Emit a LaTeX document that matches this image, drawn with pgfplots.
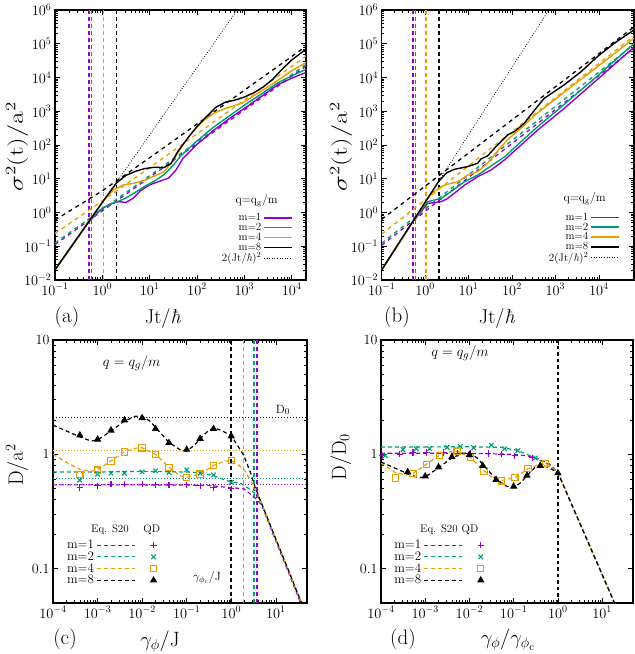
\documentclass[border=0pt]{standalone}
\usepackage{pgfplots}
\pgfplotsset{compat=1.18}
\definecolor{cP}{HTML}{9400D3}
\definecolor{cG}{HTML}{009E73}
\definecolor{cO}{HTML}{E69F00}
\newcommand{\fs}[1]{\fontsize{#1}{#1}\selectfont}
\newcommand{\hb}{\textit{ħ}}
\pgfplotsset{
  every axis/.append style={
    scale only axis,
    axis line style={line width=1.1pt}, tick align=inside,
    major tick length=5pt, minor tick length=2.6pt,
    every tick/.append style={black,line width=0.6pt},
    tick label style={font=\fs{14}},
  },
  legA/.style={legend image code/.code={\draw[##1] (0pt,0pt) -- (28pt,0pt);}},
  legC/.style={legend image code/.code={\draw[##1] (0pt,0pt) -- (38pt,0pt); \draw[##1,solid,line width=1.1pt] plot coordinates {(57pt,0pt)};}},
  vl/.style={line width=1.7pt, dash pattern=on 4pt off 3pt},
  cu/.style={line width=1.4pt},
  da/.style={line width=1.3pt, dash pattern=on 4pt off 4pt},
  s20/.style={line width=1.2pt, dash pattern=on 4pt off 3pt},
  hd/.style={line width=0.9pt, dash pattern=on 1pt off 2pt},
  bal/.style={black,line width=0.8pt,dash pattern=on 0.8pt off 1.8pt},
  qd/.style={only marks, mark size=3.2pt, line width=1.1pt, mark options={solid}},
}
\begin{document}
\begin{tikzpicture}[x=1pt,y=1pt]
\useasboundingbox (0,0) rectangle (635,654);

% ---------------- (a)
\begin{axis}[at={(55pt,374pt)}, anchor=south west, width=251pt, height=270pt,
  xmode=log, ymode=log,
  xmin=0.1, xmax=2e4, ymin=1e-2, ymax=1e6,
  xtick={0.1,1,10,100,1000,10000},
  ytick={1e-2,1e-1,1,10,100,1e3,1e4,1e5,1e6},
  legA, legend cell align=right, legend plot pos=right,
  legend style={draw=none, fill=none, at={(0.960,0.262)}, anchor=north east, font=\fs{11}, row sep=-3pt}]
\addplot[vl,cP,forget plot] coordinates {(0.53,1e-2) (0.53,1e6)};
\addplot[vl,cG,forget plot] coordinates {(0.59,1e-2) (0.59,1e6)};
\addplot[vl,cO,forget plot] coordinates {(1.05,1e-2) (1.05,1e6)};
\addplot[vl,black,forget plot] coordinates {(2.0,1e-2) (2.0,1e6)};
\addplot[bal,forget plot] coordinates {(0.1,0.02) (707,1e6)};
\addplot[da,cP,forget plot] coordinates {(0.1,0.112) (20000,21600)};
\addplot[da,cG,forget plot] coordinates {(0.1,0.125) (20000,24400)};
\addplot[da,cO,forget plot] coordinates {(0.1,0.24) (1,2.2) (10,21.4) (100,214) (1000,2140) (20000,42800)};
\addplot[da,black,forget plot] coordinates {(0.1,0.6) (1,4.4) (10,42) (100,420) (1000,4200) (20000,84000)};
\addplot[cu,cP,forget plot] coordinates {(0.1,0.02)(0.501,0.501)(0.708,0.832)(1,1.318)(1.585,1.862)(2.239,2.089)(3.162,1.995)(4.467,2.630)(6.310,4.365)(10,6.607)(15.85,8.318)(25.12,10.47)(35.48,17.78)(50.12,39.81)(100,104.7)(218.8,263)(501.2,631)(1096,1318)(2512,3020)(5012,6026)(10000,9550)(19950,14130)};
\addplot[cu,cG,forget plot] coordinates {(0.1,0.02)(0.501,0.501)(0.708,0.891)(1,1.349)(1.585,1.820)(2.239,2.188)(3.162,2.692)(5.012,3.981)(7.943,6.026)(12.59,8.511)(19.95,13.18)(31.62,25.12)(44.67,46.77)(100,131.8)(218.8,331.1)(501.2,758.6)(1096,1660)(2512,3548)(5012,6918)(10000,11220)(19950,17380)};
\addplot[cu,cO,forget plot] coordinates {(0.1,0.02)(0.316,0.2)(1,2)(1.259,3.02)(1.778,4.786)(2.818,6.607)(4.467,7.244)(7.079,8.511)(11.22,11.22)(19.95,15.85)(31.62,35.48)(50.12,100)(79.43,239.9)(125.9,478.6)(223.9,871)(398.1,1202)(891.3,1738)(1995,3548)(4467,7244)(10000,15850)(19950,27540)};
\addplot[cu,black,forget plot] coordinates {(0.1,0.02)(0.316,0.2)(1,2)(2,7.6)(3.16,12.6)(5.01,16.6)(7.94,20)(12.6,21.9)(20,21.4)(28.2,28.2)(39.8,66)(63.1,158)(100,355)(158,692)(251,1318)(398,1862)(631,2138)(1000,2630)(1585,3548)(2512,5248)(3981,8900)(6310,17800)(10000,33000)(20000,69000)};
\addlegendimage{cu,cP}\addlegendentry{m=1}
\addlegendimage{cu,cG}\addlegendentry{m=2}
\addlegendimage{cu,cO}\addlegendentry{m=4}
\addlegendimage{cu,black}\addlegendentry{m=8}
\addlegendimage{bal}\addlegendentry{2(Jt/\hb)$^2$}
\end{axis}

% ---------------- (b)
\begin{axis}[at={(381.7pt,374pt)}, anchor=south west, width=252.3pt, height=270pt,
  xmode=log, ymode=log,
  xmin=0.1, xmax=6.46e4, ymin=1e-2, ymax=1e6,
  xtick={0.1,1,10,100,1000,10000},
  ytick={1e-2,1e-1,1,10,100,1e3,1e4,1e5,1e6},
  legA, legend cell align=right, legend plot pos=right,
  legend style={draw=none, fill=none, at={(0.956,0.264)}, anchor=north east, font=\fs{11}, row sep=-3pt}]
\addplot[vl,cP,forget plot] coordinates {(0.52,1e-2) (0.52,1e6)};
\addplot[vl,cG,forget plot] coordinates {(0.60,1e-2) (0.60,1e6)};
\addplot[vl,cO,forget plot] coordinates {(1.05,1e-2) (1.05,1e6)};
\addplot[vl,black,forget plot] coordinates {(2.06,1e-2) (2.06,1e6)};
\addplot[bal,forget plot] coordinates {(0.1,0.02) (707,1e6)};
\addplot[da,cP,forget plot] coordinates {(0.1,0.107) (64570,74000)};
\addplot[da,cG,forget plot] coordinates {(0.1,0.123) (64570,95500)};
\addplot[da,cO,forget plot] coordinates {(0.1,0.23) (64570,170000)};
\addplot[da,black,forget plot] coordinates {(0.1,0.63) (64570,316000)};
\addplot[cu,cP,forget plot] coordinates {(0.1,0.02)(0.513,0.525)(1.148,1.862)(2.344,2.089)(3.162,2.512)(4.732,3.715)(8.035,6.457)(16.22,11.48)(33.11,18.2)(67.61,36.31)(162.2,100)(389,275.4)(1585,1202)(10000,9550)(64570,79430)};
\addplot[cu,cG,forget plot] coordinates {(0.1,0.02)(0.562,0.631)(1.148,2.089)(2.344,2.630)(3.981,4.169)(8.035,8.128)(16.22,12.88)(27.54,20.42)(67.61,44.67)(162.2,125.9)(389,346.7)(1585,1585)(10000,12020)(64570,102300)};
\addplot[cu,cO,forget plot] coordinates {(0.1,0.02)(1.148,2.63)(1.585,4.169)(2.323,5.754)(3.311,6.918)(5.623,8.128)(9.55,12.88)(16.22,16.22)(27.54,28.84)(56.23,89.13)(95.5,177.8)(195,389)(331,758.6)(1585,3631)(10000,22390)(64570,144500)};
\addplot[cu,black,forget plot] coordinates {(0.1,0.02)(1,2)(2.042,8.318)(3.162,15.14)(4.732,19.05)(9.55,22.91)(16.22,28.84)(19.05,38.02)(27.54,47.86)(42.66,89.13)(79.43,199.5)(114.8,251.2)(190.5,436.5)(316.2,1000)(549.5,2399)(1585,6026)(3890,14790)(9333,41690)(22390,102300)(64570,257000)};
\addlegendimage{cu,cP}\addlegendentry{m=1}
\addlegendimage{cu,cG}\addlegendentry{m=2}
\addlegendimage{cu,cO}\addlegendentry{m=4}
\addlegendimage{cu,black}\addlegendentry{m=8}
\addlegendimage{bal}\addlegendentry{2(Jt/\hb)$^2$}
\end{axis}

% ---------------- (c)
\begin{axis}[at={(53pt,51pt)}, anchor=south west, width=254pt, height=263pt,
  xmode=log, ymode=log,
  xmin=1e-4, xmax=50, ymin=0.05, ymax=10,
  xtick={1e-4,1e-3,1e-2,1e-1,1,10},
  ytick={0.1,1,10}, yticklabels={0.1,1,10},
  legC, legend cell align=right, legend plot pos=right,
  legend style={draw=none, fill=none, at={(0.035,0.255)}, anchor=north west, font=\fs{13}, row sep=-2.5pt}]
\addplot[hd,black,forget plot] coordinates {(1e-4,2.1) (50,2.1)};
\addplot[hd,cO,forget plot] coordinates {(1e-4,1.07) (50,1.07)};
\addplot[hd,cG,forget plot] coordinates {(1e-4,0.61) (50,0.61)};
\addplot[hd,cP,forget plot] coordinates {(1e-4,0.54) (50,0.54)};
\addplot[vl,black,forget plot] coordinates {(1,0.05) (1,10)};
\addplot[vl,cO,forget plot] coordinates {(1.89,0.05) (1.89,10)};
\addplot[vl,cG,forget plot] coordinates {(3.2,0.05) (3.2,10)};
\addplot[vl,cP,forget plot] coordinates {(3.77,0.05) (3.77,10)};
\addplot[s20,cP,forget plot] coordinates {(1e-4,0.54)(1e-3,0.54)(1e-2,0.54)(0.1,0.538)(0.3,0.535)(0.6,0.52)(1,0.51)(1.9,0.50)(3,0.434)(4.3,0.38)(5,0.345)(10,0.174)(20,0.089)(50,0.036)};
\addplot[s20,cG,forget plot] coordinates {(1e-4,0.70)(1e-3,0.70)(1e-2,0.71)(0.1,0.70)(0.2,0.69)(0.4,0.65)(0.7,0.60)(1,0.57)(1.6,0.56)(2.5,0.50)(3.5,0.45)(4.5,0.395)(10,0.181)(20,0.0927)(50,0.0378)};
\addplot[s20,cO,forget plot] coordinates {(1e-4,1.0)(2e-4,0.85)(4e-4,0.74)(7e-4,0.71)(1e-3,0.73)(2e-3,0.875)(4e-3,1.05)(7e-3,1.13)(1e-2,1.14)(2e-2,1.0)(4e-2,0.77)(7e-2,0.65)(1e-1,0.63)(2e-1,0.67)(4e-1,0.80)(7e-1,0.87)(1,0.88)(1.5,0.80)(2,0.72)(3,0.55)(4,0.443)(10,0.181)(20,0.0927)(50,0.0378)};
\addplot[s20,black,forget plot] coordinates {(1e-4,1.80)(2e-4,1.6)(4e-4,1.42)(7e-4,1.31)(1e-3,1.33)(2e-3,1.6)(4e-3,1.95)(7e-3,2.15)(1e-2,2.15)(1.5e-2,1.95)(2e-2,1.72)(4e-2,1.27)(7e-2,1.1)(1e-1,1.07)(1.5e-1,1.2)(2e-1,1.37)(3e-1,1.6)(4e-1,1.7)(6e-1,1.62)(1,1.45)(1.34,1.22)(1.9,0.98)(2.7,0.69)(3.46,0.51)(5,0.356)(10,0.181)(20,0.0927)(50,0.0378)};
\addplot[qd,cP,mark=+,forget plot] coordinates {(4e-4,0.513)(1e-3,0.53)(2e-3,0.548)(4e-3,0.548)(1e-2,0.548)(2e-2,0.541)(4e-2,0.541)(1e-1,0.541)(2e-1,0.53)(4e-1,0.513)(1,0.50)};
\addplot[qd,cG,mark=x,forget plot] coordinates {(4e-4,0.594)(1e-3,0.67)(2e-3,0.684)(4e-3,0.684)(1e-2,0.70)(2e-2,0.716)(4e-2,0.693)(1e-1,0.73)(2e-1,0.684)(4e-1,0.66)(1,0.567)};
\addplot[qd,cO,mark=square,forget plot] coordinates {(4e-4,0.666)(1e-3,0.726)(2e-3,0.875)(4e-3,1.047)(1e-2,1.14)(2e-2,1.0)(4e-2,0.766)(1e-1,0.627)(2e-1,0.67)(4e-1,0.80)(1,0.887)};
\addplot[qd,black,mark=triangle*,forget plot] coordinates {(4e-4,1.47)(1e-3,1.35)(2e-3,1.62)(4e-3,1.99)(1e-2,2.08)(2e-2,1.67)(4e-2,1.26)(1e-1,1.10)(2e-1,1.37)(4e-1,1.67)(1,1.44)};
\addlegendimage{s20,cP,mark=+,mark size=3.2pt}\addlegendentry{m=1}
\addlegendimage{s20,cG,mark=x,mark size=3.2pt}\addlegendentry{m=2}
\addlegendimage{s20,cO,mark=square,mark size=3.2pt}\addlegendentry{m=4}
\addlegendimage{s20,black,mark=triangle*,mark size=3.2pt}\addlegendentry{m=8}
\end{axis}

% ---------------- (d)
\begin{axis}[at={(381pt,51pt)}, anchor=south west, width=252pt, height=263pt,
  xmode=log, ymode=log,
  xmin=1e-4, xmax=50, ymin=0.05, ymax=10,
  xtick={1e-4,1e-3,1e-2,1e-1,1,10},
  ytick={0.1,1,10}, yticklabels={0.1,1,10},
  legC, legend cell align=right, legend plot pos=right,
  legend style={draw=none, fill=none, at={(0.032,0.255)}, anchor=north west, font=\fs{13}, row sep=-2.5pt}]
\addplot[black,line width=1.3pt,dash pattern=on 3.5pt off 3pt,forget plot] coordinates {(1,0.05) (1,10)};
\addplot[s20,cP,forget plot] coordinates {(1e-4,1.02)(1e-3,1.02)(1e-2,1.02)(0.1,1.0)(0.2,0.97)(0.35,0.92)(0.6,0.84)(1,0.70)(2,0.372)(5,0.165)(10,0.089)(20,0.048)(50,0.021)};
\addplot[s20,cG,forget plot] coordinates {(1e-4,1.16)(1e-3,1.16)(1e-2,1.165)(0.05,1.15)(0.125,1.08)(0.2,1.0)(0.35,0.9)(0.6,0.82)(1,0.70)(2,0.372)(5,0.165)(10,0.089)(20,0.048)(50,0.021)};
\addplot[s20,cO,forget plot] coordinates {(1e-4,0.84)(2.12e-4,0.69)(3.7e-4,0.66)(5.3e-4,0.68)(1.06e-3,0.82)(2.12e-3,0.98)(3.7e-3,1.056)(5.3e-3,1.065)(1.06e-2,0.935)(2.12e-2,0.72)(3.7e-2,0.607)(5.3e-2,0.589)(0.106,0.626)(0.212,0.748)(0.37,0.813)(0.53,0.822)(1,0.70)(2,0.372)(5,0.165)(10,0.089)(20,0.048)(50,0.021)};
\addplot[s20,black,forget plot] coordinates {(1e-4,0.857)(2e-4,0.762)(4e-4,0.676)(7e-4,0.624)(1e-3,0.633)(2e-3,0.762)(4e-3,0.929)(7e-3,1.024)(1e-2,1.024)(1.5e-2,0.929)(2e-2,0.819)(4e-2,0.605)(7e-2,0.524)(1e-1,0.510)(1.5e-1,0.571)(2e-1,0.652)(3e-1,0.762)(4e-1,0.810)(6e-1,0.771)(1,0.690)(2,0.372)(5,0.165)(10,0.089)(20,0.048)(50,0.021)};
\addplot[qd,cP,mark=+,forget plot] coordinates {(1.06e-4,0.968)(2.65e-4,1.0)(5.3e-4,1.034)(1.06e-3,1.034)(2.65e-3,1.034)(5.3e-3,1.02)(1.06e-2,1.02)(2.65e-2,1.02)(5.3e-2,1.0)(0.106,0.968)(0.265,0.93)};
\addplot[qd,cG,mark=x,forget plot] coordinates {(1.25e-4,0.974)(3.13e-4,1.10)(6.25e-4,1.12)(1.25e-3,1.12)(3.13e-3,1.15)(6.25e-3,1.17)(1.25e-2,1.14)(3.13e-2,1.20)(6.25e-2,1.12)(0.125,1.08)(0.3125,0.93)};
\addplot[qd,cO,mark=square,forget plot] coordinates {(2.12e-4,0.622)(5.29e-4,0.679)(1.06e-3,0.818)(2.12e-3,0.979)(5.29e-3,1.065)(1.06e-2,0.935)(2.12e-2,0.716)(5.29e-2,0.586)(0.106,0.626)(0.212,0.748)(0.529,0.829)};
\addplot[qd,black,mark=triangle*,forget plot] coordinates {(4e-4,0.70)(1e-3,0.643)(2e-3,0.771)(4e-3,0.948)(1e-2,0.99)(2e-2,0.795)(4e-2,0.60)(1e-1,0.524)(2e-1,0.652)(4e-1,0.795)(1,0.686)};
\addlegendimage{s20,cP,mark=+,mark size=3.2pt}\addlegendentry{m=1}
\addlegendimage{s20,cG,mark=x,mark size=3.2pt}\addlegendentry{m=2}
\addlegendimage{s20,cO,mark=square,mark size=3.2pt}\addlegendentry{m=4}
\addlegendimage{s20,black,mark=triangle*,mark size=3.2pt}\addlegendentry{m=8}
\end{axis}

% ---------------- labels
\node[rotate=90,font=\fs{21}] at (17,507) {\scalebox{1.3}[1]{$\sigma^2(\mathrm{t})/\mathrm{a}^2$}};
\node[rotate=90,font=\fs{21}] at (341,507) {\scalebox{1.3}[1]{$\sigma^2(\mathrm{t})/\mathrm{a}^2$}};
\node[rotate=90,font=\fs{21}] at (17,189) {$\mathrm{D}/\mathrm{a}^2$};
\node[rotate=90,font=\fs{21}] at (341,197) {$\mathrm{D}/\mathrm{D}_0$};
\node[font=\fs{20},inner sep=0pt] at (163,335) {Jt/\hb};
\node[font=\fs{20},inner sep=0pt] at (497,335) {Jt/\hb};
\node[font=\fs{21},inner sep=0pt] at (160,12) {$\gamma_\phi/\mathrm{J}$};
\node[font=\fs{21},inner sep=0pt] at (508,14) {$\gamma_\phi/\gamma_{\phi_\mathrm{c}}$};
\node[font=\fs{21},inner sep=0pt] at (67,337) {(a)};
\node[font=\fs{21},inner sep=0pt] at (397,337) {(b)};
\node[font=\fs{21},inner sep=0pt] at (65,15) {(c)};
\node[font=\fs{21},inner sep=0pt] at (403,15) {(d)};
\node[font=\fs{12}] at (256.7,453) {$\mathrm{q{=}q_g/m}$};
\node[font=\fs{12}] at (584.7,455) {$\mathrm{q{=}q_g/m}$};
\node[font=\fs{15}] at (131.7,291) {$q = q_g/m$};
\node[font=\fs{15}] at (460,301) {$q = q_g/m$};
\node[font=\fs{13}] at (283,244) {$\mathrm{D}_0$};
\node[font=\fs{13}] at (207,76) {$\gamma_{\phi_\mathrm{c}}/\mathrm{J}$};
\node[font=\fs{11}] at (110,124) {Eq. S20};
\node[font=\fs{11}] at (151.7,124) {QD};
\node[font=\fs{11}] at (439,124) {Eq. S20};
\node[font=\fs{11}] at (470,124) {QD};
\end{tikzpicture}
\end{document}
